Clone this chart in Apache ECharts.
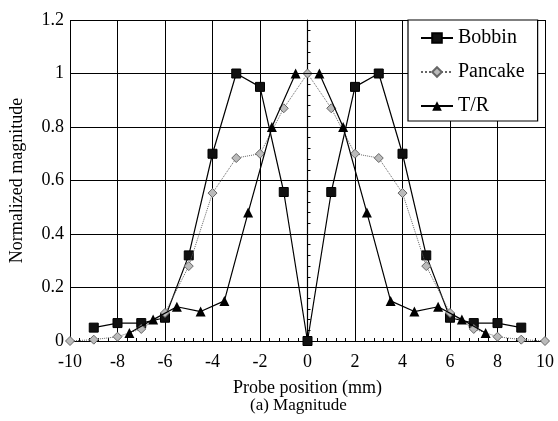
<!DOCTYPE html>
<html>
<head>
<meta charset="utf-8">
<script src="https://cdn.jsdelivr.net/npm/echarts@6/dist/echarts.min.js"></script>
<style>
  html, body { margin: 0; padding: 0; background: #fff; }
  #chart { width: 558px; height: 421px; }
</style>
</head>
<body>
<div id="chart"></div>
<script>
var chart = echarts.init(document.getElementById('chart'));

// probe positions (mm) and normalized magnitudes
var bobbinX = [-9, -8, -7, -6, -5, -4, -3, -2, -1, 0, 1, 2, 3, 4, 5, 6, 7, 8, 9];
var bobbinY = [0.05, 0.067, 0.067, 0.087, 0.32, 0.70, 1.0, 0.95, 0.557, 0, 0.557, 0.95, 1.0, 0.70, 0.32, 0.087, 0.067, 0.067, 0.05];

var pancakeX = [-10, -9, -8, -7, -6, -5, -4, -3, -2, -1, 0, 1, 2, 3, 4, 5, 6, 7, 8, 9, 10];
var pancakeY = [0, 0.005, 0.016, 0.045, 0.105, 0.28, 0.553, 0.684, 0.70, 0.87, 1.0, 0.87, 0.70, 0.684, 0.553, 0.28, 0.105, 0.045, 0.016, 0.005, 0];

var trX = [-7.5, -6.5, -5.5, -4.5, -3.5, -2.5, -1.5, -0.5, 0.5, 1.5, 2.5, 3.5, 4.5, 5.5, 6.5, 7.5];
var trY = [0.03, 0.08, 0.128, 0.11, 0.15, 0.48, 0.80, 1.0, 1.0, 0.80, 0.48, 0.15, 0.11, 0.128, 0.08, 0.03];

function pairs(xs, ys) {
  return xs.map(function (x, i) { return [x, ys[i]]; });
}

var serif = 'Liberation Serif';

var option = {
  backgroundColor: '#fff',
  animation: false,
  textStyle: { fontFamily: serif, color: '#000' },
  grid: { left: 67, right: 13, top: 20, bottom: 80 },
  legend: {
    orient: 'vertical',
    left: 408,
    top: 20,
    itemWidth: 32,
    itemHeight: 12,
    itemGap: 14,
    padding: [8, 13, 5, 12],
    borderColor: '#000',
    borderWidth: 1.2,
    backgroundColor: '#fff',
    textStyle: { fontFamily: serif, fontSize: 20, color: '#000' },
    data: ['Bobbin', 'Pancake', 'T/R']
  },
  xAxis: {
    type: 'value',
    min: -10,
    max: 10,
    interval: 2,
    name: 'Probe position (mm)',
    nameLocation: 'middle',
    nameGap: 38,
    nameTextStyle: { fontFamily: serif, fontSize: 18, color: '#000' },
    axisLine: { lineStyle: { color: '#000', width: 1.2 } },
    axisTick: { show: false },
    minorTick: { show: true, splitNumber: 5, length: -3, lineStyle: { color: '#000' } },
    axisLabel: { fontFamily: serif, fontSize: 18, color: '#000', margin: 12 },
    splitLine: { show: true, lineStyle: { color: '#000', width: 1 } }
  },
  yAxis: {
    type: 'value',
    min: 0,
    max: 1.2,
    interval: 0.2,
    name: 'Normalized magnitude',
    nameLocation: 'middle',
    nameGap: 44,
    nameTextStyle: { fontFamily: serif, fontSize: 18, color: '#000' },
    axisLine: { show: true, lineStyle: { color: '#000', width: 1.2 } },
    axisTick: { show: true, inside: false, length: 4, lineStyle: { color: '#000' } },
    minorTick: { show: true, splitNumber: 5, length: -3, lineStyle: { color: '#000' } },
    axisLabel: { fontFamily: serif, fontSize: 18, color: '#000', margin: 6 },
    splitLine: { show: true, lineStyle: { color: '#000', width: 1 } }
  },
  graphic: [
    {
      type: 'text',
      left: 250,
      top: 397,
      style: { text: '(a) Magnitude', font: '17px "Liberation Serif"', fill: '#000' }
    }
  ],
  series: [
    {
      name: 'Bobbin',
      type: 'line',
      data: pairs(bobbinX, bobbinY),
      symbol: 'rect',
      symbolSize: 9,
      showAllSymbol: true,
      lineStyle: { color: '#000', width: 1.2 },
      itemStyle: { color: '#111', borderColor: '#000', borderWidth: 1 },
      z: 3
    },
    {
      name: 'Pancake',
      type: 'line',
      data: pairs(pancakeX, pancakeY),
      symbol: 'diamond',
      symbolSize: 9,
      showAllSymbol: true,
      lineStyle: { color: '#666', width: 1, type: 'dotted' },
      itemStyle: { color: '#bbb', borderColor: '#666', borderWidth: 1 },
      z: 4
    },
    {
      name: 'T/R',
      type: 'line',
      data: pairs(trX, trY),
      symbol: 'triangle',
      symbolSize: 10,
      showAllSymbol: true,
      lineStyle: { color: '#000', width: 1.2 },
      itemStyle: { color: '#000', borderColor: '#000', borderWidth: 0 },
      z: 5
    }
  ]
};

chart.setOption(option);
</script>
</body>
</html>
